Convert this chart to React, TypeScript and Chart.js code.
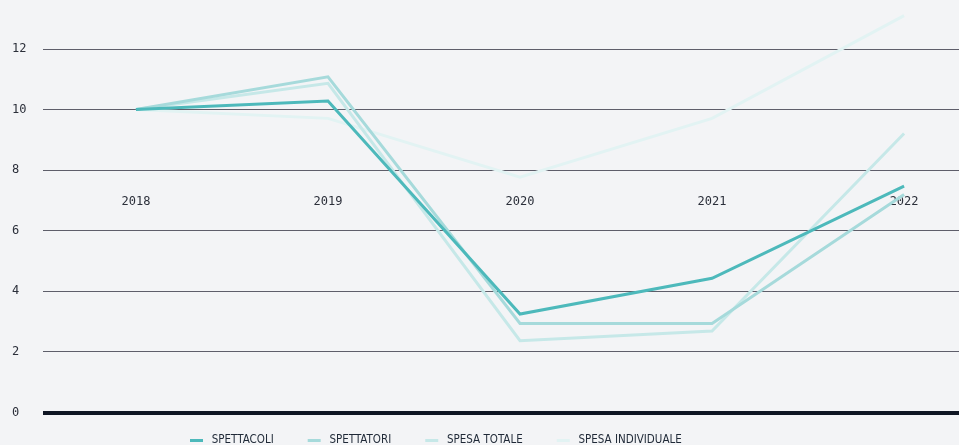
import React, { useEffect, useRef } from 'react';
import { Chart, registerables } from 'chart.js';

Chart.register(...registerables);

const years = ['2018', '2019', '2020', '2021', '2022'];
const spettacoli = [10.0, 10.28, 3.25, 4.43, 7.47];
const spettatori = [10.0, 11.08, 2.94, 2.94, 7.2];
const spesaTotale = [10.0, 10.87, 2.37, 2.69, 9.21];
const spesaIndividuale = [10.0, 9.71, 7.77, 9.71, 13.1];
const seriesNames = ['SPETTACOLI', 'SPETTATORI', 'SPESA TOTALE', 'SPESA INDIVIDUALE'];
const seriesValues = [spettacoli, spettatori, spesaTotale, spesaIndividuale];
const seriesColors = ['#4db9bb', '#a6dadb', '#c6e8e8', '#e2f3f3'];
const yTickValues = [0, 2, 4, 6, 8, 10, 12];

const MONO = "'DejaVu Sans Mono', 'Liberation Mono', monospace";
const NARROW = "'Liberation Sans Narrow', 'Arial Narrow', 'DejaVu Sans Condensed', sans-serif";

export default function App() {
  const ref = useRef<HTMLCanvasElement | null>(null);

  useEffect(() => {
    const canvas = ref.current;
    if (!canvas) return;

    const BOXW = 28;
    const markers = seriesColors.map((c) => {
      const m = document.createElement('canvas');
      m.width = BOXW;
      m.height = 3;
      const g = m.getContext('2d')!;
      g.fillStyle = c;
      g.fillRect(BOXW - 16, 0, 13, 3);
      return m;
    });

    const legendShift = {
      id: 'legendShift',
      afterLayout(chart: any) {
        const lg = chart.legend;
        if (lg) {
          lg.left = 178 - 22;
        }
      },
    };

    const chart = new Chart(canvas, {
      type: 'line',
      data: {
        datasets: seriesNames.map((name, i) => ({
          label: name,
          data: seriesValues[i].map((v, j) => ({ x: j, y: v })),
          borderColor: seriesColors[i],
          backgroundColor: seriesColors[i],
          borderWidth: 3,
          pointRadius: 0,
          pointHoverRadius: 0,
          tension: 0,
          fill: false,
        })),
      },
      options: {
        animation: false,
        responsive: false,
        maintainAspectRatio: false,
        layout: { padding: { left: 12, right: 0, top: 4, bottom: -11 } },
        plugins: {
          tooltip: { enabled: false },
          legend: {
            position: 'bottom',
            align: 'start',
            labels: {
              usePointStyle: true,
              pointStyleWidth: BOXW,
              padding: 22,
              color: '#1f2937',
              font: { family: NARROW, size: 11.5 },
              generateLabels: (ch: any) =>
                ch.data.datasets.map((ds: any, i: number) => ({
                  text: ds.label,
                  pointStyle: markers[i],
                  fillStyle: seriesColors[i],
                  strokeStyle: seriesColors[i],
                  lineWidth: 0,
                  hidden: false,
                  datasetIndex: i,
                  fontColor: '#1f2937',
                })),
            },
          },
        },
        scales: {
          x: {
            type: 'linear',
            min: -0.484,
            max: 4.286,
            position: { y: 7.18 } as any,
            afterBuildTicks: (s: any) => {
              s.ticks = years.map((_, i) => ({ value: i }));
            },
            grid: { display: false, drawTicks: false },
            border: { display: false },
            ticks: {
              padding: 0,
              maxRotation: 0,
              autoSkip: false,
              color: '#2b2f3a',
              font: { family: MONO, size: 12 },
              callback: (v: any) => years[v as number],
            },
          },
          y: {
            min: 0,
            max: 13.38,
            afterBuildTicks: (s: any) => {
              s.ticks = yTickValues.map((v) => ({ value: v }));
            },
            afterFit: (s: any) => {
              s.width = 31;
            },
            border: { display: false },
            grid: {
              drawTicks: false,
              color: (c: any) => (c.tick && c.tick.value === 0 ? '#0f1623' : '#5e5e6a'),
              lineWidth: (c: any) => (c.tick && c.tick.value === 0 ? 4 : 1),
            },
            ticks: {
              crossAlign: 'far',
              padding: 0,
              color: '#2b2f3a',
              font: { family: MONO, size: 12 },
            },
          },
        },
      },
      plugins: [legendShift],
    });

    return () => chart.destroy();
  }, []);

  return (
    <div style={{ position: 'fixed', left: 0, top: 0, width: 959, height: 445, background: '#f3f4f6' }}>
      <canvas ref={ref} width={959} height={445} style={{ display: 'block' }} />
    </div>
  );
}
